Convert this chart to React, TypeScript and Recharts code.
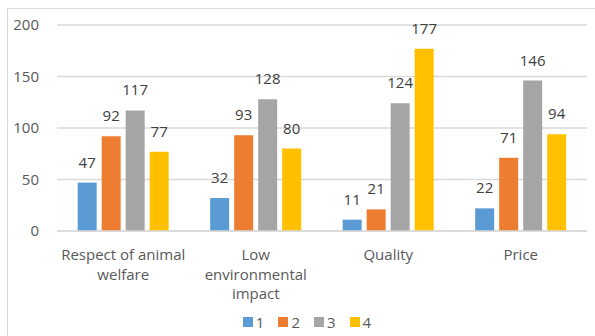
import { BarChart, Bar, XAxis, YAxis, CartesianGrid, Legend, LabelList } from 'recharts'

const categories = ['Respect of animal welfare', 'Low environmental impact', 'Quality', 'Price']
const categoryLines: Record<string, string[]> = {
  'Respect of animal welfare': ['Respect of animal', 'welfare'],
  'Low environmental impact': ['Low', 'environmental', 'impact'],
  Quality: ['Quality'],
  Price: ['Price'],
}
const seriesNames = ['1', '2', '3', '4']
const series1 = [47, 32, 11, 22]
const series2 = [92, 93, 21, 71]
const series3 = [117, 128, 124, 146]
const series4 = [77, 80, 177, 94]
const yTicks = [0, 50, 100, 150, 200]

const COLORS = ['#5B9BD5', '#ED7D31', '#A5A5A5', '#FFC000']
const FONT = '"Open Sans", sans-serif'

const data = categories.map((c, i) => ({
  name: c,
  s1: series1[i],
  s2: series2[i],
  s3: series3[i],
  s4: series4[i],
}))

const CategoryTick = (props: any) => {
  const { x, y, payload } = props
  const lines = categoryLines[payload.value] ?? [payload.value]
  return (
    <g transform={`translate(${x},${y})`}>
      {lines.map((l, i) => (
        <text
          key={i}
          x={0}
          y={i * 19.5}
          dy={21}
          textAnchor="middle"
          fill="#595959"
          fontSize={15}
          fontFamily={FONT}
        >
          {l}
        </text>
      ))}
    </g>
  )
}

const LegendContent = () => (
  <div
    style={{
      display: 'flex',
      justifyContent: 'center',
      paddingLeft: 27,
      fontFamily: FONT,
      fontSize: 15,
      lineHeight: '18px',
      color: '#595959',
    }}
  >
    {seriesNames.map((n, i) => (
      <div key={n} style={{ display: 'flex', alignItems: 'center', marginRight: i < 3 ? 14 : 0 }}>
        <span style={{ width: 10, height: 10, background: COLORS[i], display: 'inline-block', marginRight: 3 }} />
        <span>{n}</span>
      </div>
    ))}
  </div>
)

export default function App() {
  const keys = ['s1', 's2', 's3', 's4']
  return (
    <div style={{ position: 'absolute', left: 0, top: 0, width: 595, height: 336, overflow: 'hidden', background: '#fff' }}>
      <div
        style={{
          position: 'absolute',
          left: 7,
          top: 8,
          width: 600,
          height: 340,
          border: '1px solid #d9d9d9',
          boxSizing: 'border-box',
        }}
      />
      <BarChart
        width={595}
        height={336}
        data={data}
        margin={{ top: 25, right: 8, left: 0, bottom: 7 }}
        barGap={5}
        barCategoryGap="15.6%"
        style={{ position: 'absolute', left: 0, top: 0 }}
      >
        <CartesianGrid vertical={false} stroke="#d9d9d9" strokeWidth={1.5} />
        <XAxis
          dataKey="name"
          height={80}
          axisLine={{ stroke: '#d9d9d9', strokeWidth: 1.5 }}
          tickLine={false}
          tick={<CategoryTick />}
          interval={0}
        />
        <YAxis
          width={57}
          domain={[0, 200]}
          ticks={yTicks}
          axisLine={false}
          tickLine={false}
          tickSize={0}
          tickMargin={18}
          tick={{ fill: '#595959', fontSize: 15, fontFamily: FONT }}
        />
        <Legend verticalAlign="bottom" content={<LegendContent />} wrapperStyle={{ bottom: 5 }} />
        {keys.map((k, i) => (
          <Bar key={k} dataKey={k} name={seriesNames[i]} fill={COLORS[i]} isAnimationActive={false}>
            <LabelList dataKey={k} position="top" offset={15} fill="#404040" fontSize={15} fontFamily={FONT} />
          </Bar>
        ))}
      </BarChart>
    </div>
  )
}
